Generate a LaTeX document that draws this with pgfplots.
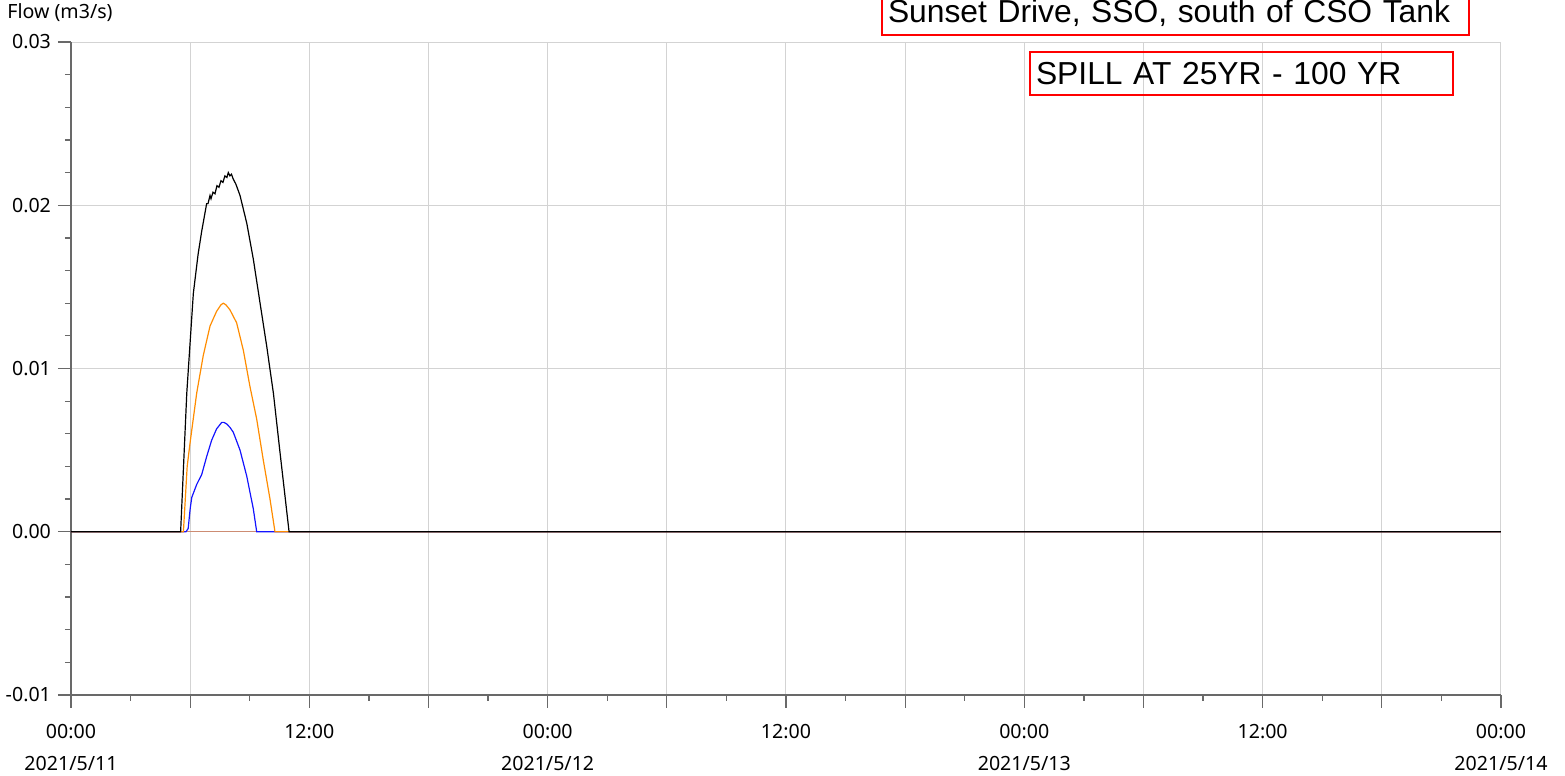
\documentclass[border=0pt]{standalone}
\usepackage{pgfplots}
\pgfplotsset{compat=1.18}
\usepackage{fontspec}
\setmainfont{Noto Sans}
\newfontfamily\arialfont{Liberation Sans}
\definecolor{gridgray}{RGB}{211,211,211}
\definecolor{axgray}{RGB}{105,105,105}
\definecolor{sienna}{RGB}{205,140,115}
\definecolor{orng}{RGB}{255,140,0}
\definecolor{blu}{RGB}{20,20,255}
\begin{document}
\begin{tikzpicture}
\begin{axis}[
  scale only axis,
  width=715pt, height=326.5pt,
  xmin=0, xmax=72, ymin=-0.01, ymax=0.03,
  axis x line*=bottom, axis y line*=left,
  axis line style={axgray, line width=0.6pt},
  tick align=outside,
  major tick length=6.5pt, minor tick length=3pt,
  tick style={axgray, line width=0.6pt},
  xtick={0,6,...,72},
  minor xtick={3,9,...,69},
  xticklabels={00:00\\2021/5/11,,12:00,,00:00\\2021/5/12,,12:00,,00:00\\2021/5/13,,12:00,,00:00\\2021/5/14},
  xticklabel style={align=center, font=\fontsize{9.8}{16}\selectfont, yshift=-4.5pt},
  ytick={-0.01,0,0.01,0.02,0.03},
  minor ytick={-0.008,-0.006,-0.004,-0.002,0.002,0.004,0.006,0.008,0.012,0.014,0.016,0.018,0.022,0.024,0.026,0.028},
  yticklabel style={font=\fontsize{9.8}{12}\selectfont, /pgf/number format/.cd, fixed, fixed zerofill, precision=2, assume math mode=true},
  scaled y ticks=false,
  grid=major,
  major grid style={gridgray, line width=0.5pt},
  clip=true,
]
\addplot[sienna, line width=0.6pt] coordinates {(0,0) (72,0)};
\addplot[blu, line width=0.6pt] coordinates {
(0,0) (5.79,0) (5.9,0.0002) (6.0,0.0014) (6.08,0.0021) (6.33,0.0029) (6.58,0.0035) (6.83,0.0046) (7.08,0.0056) (7.33,0.0063) (7.59,0.0067) (7.7,0.0067) (7.84,0.0066) (8.0,0.0064) (8.17,0.0061) (8.51,0.0050) (8.85,0.0034) (9.18,0.0014) (9.35,0) (72,0)};
\addplot[orng, line width=0.6pt] coordinates {
(0,0) (5.66,0) (5.85,0.0040) (5.99,0.0054) (6.33,0.0085) (6.66,0.0108) (7.0,0.0126) (7.33,0.0135) (7.55,0.0139) (7.67,0.0140) (7.8,0.0139) (8.0,0.0136) (8.34,0.0128) (8.68,0.0111) (9.01,0.0089) (9.35,0.0069) (9.68,0.0044) (10.02,0.0020) (10.27,0) (72,0)};
\addplot[black, line width=0.6pt] coordinates {
(0,0) (5.52,0) (5.83,0.0085) (6.16,0.0146) (6.4,0.0170) (6.58,0.0184) (6.83,0.0201) (6.9,0.0201) (7.0,0.0206) (7.05,0.0204) (7.15,0.0208) (7.25,0.0207) (7.35,0.0212) (7.45,0.0211) (7.55,0.0215) (7.65,0.0214) (7.75,0.0218) (7.85,0.0217) (7.92,0.0220) (8.0,0.0218) (8.08,0.0219) (8.17,0.0216) (8.3,0.0213) (8.51,0.0206) (8.85,0.0189) (9.18,0.0167) (9.52,0.0140) (9.85,0.0114) (10.19,0.0085) (10.52,0.0049) (10.98,0) (72,0)};
\end{axis}
\node[anchor=west, inner sep=0pt, font=\fontsize{9.8}{12}\selectfont] at ([shift={(-32pt,341pt)}]current axis.south west) {Flow (m3/s)};
\node[draw=red, line width=1pt, anchor=south west, minimum width=293.5pt, text width=287.5pt, minimum height=22pt, inner xsep=3pt, inner ysep=0pt, align=left, font=\arialfont\fontsize{15.9}{18}\selectfont] at ([shift={(405pt,329.5pt)}]current axis.south west) {Sunset Drive, SSO, south of CSO Tank};
\node[draw=red, line width=1pt, anchor=south west, minimum width=211.5pt, text width=205.5pt, minimum height=21.5pt, inner xsep=3pt, inner ysep=0pt, align=left, font=\arialfont\fontsize{15.9}{18}\selectfont] at ([shift={(479pt,299.5pt)}]current axis.south west) {SPILL AT 25YR - 100 YR};
\pgfresetboundingbox
\path[use as bounding box] ([shift={(-35.5pt,-40.5pt)}]current axis.south west) rectangle ([shift={(747pt,347.5pt)}]current axis.south west);
\end{tikzpicture}
\end{document}
